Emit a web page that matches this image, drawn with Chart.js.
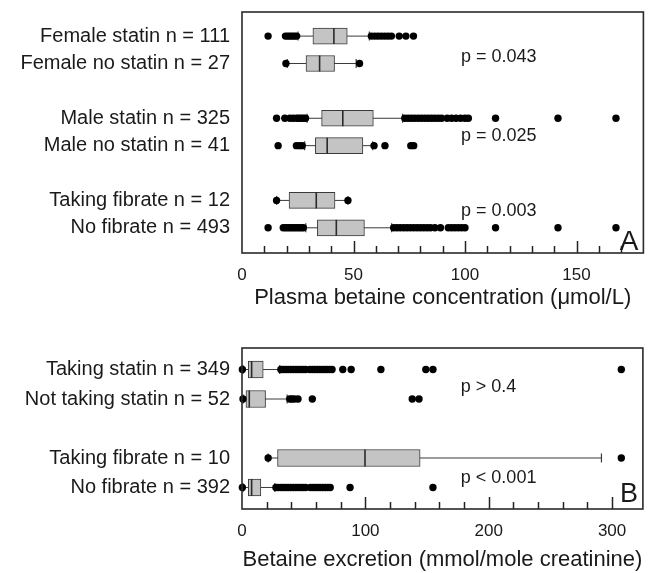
<!DOCTYPE html>
<html>
<head>
<meta charset="utf-8">
<script src="https://cdn.jsdelivr.net/npm/chart.js@4.4.1/dist/chart.umd.min.js"></script>
<style>
  html, body { margin: 0; padding: 0; background: #fff; }
  #wrapA { position: absolute; left: 0; top: 0; width: 653px; height: 320px; }
  #wrapB { position: absolute; left: 0; top: 320px; width: 653px; height: 253px; }
</style>
</head>
<body>
<div id="wrapA"><canvas id="chartA" width="653" height="320"></canvas></div>
<div id="wrapB"><canvas id="chartB" width="653" height="253"></canvas></div>
<script>
// ---------- Panel A data: plasma betaine concentration (µmol/L) ----------
const labelsA = ['Female statin n = 111', 'Female no statin n = 27', 'Male statin n = 325', 'Male no statin n = 41', 'Taking fibrate n = 12', 'No fibrate n = 493'];
const rowsA = [0, 1, 3, 4, 6, 7];
const lowA = [25.1, 20.3, 29.2, 28.1, 15.5, 28.6];
const q1A = [31.8, 28.7, 35.7, 32.9, 21.1, 33.8];
const medianA = [41.2, 34.8, 45.2, 38.2, 33.3, 42.3];
const q3A = [47.2, 41.5, 58.9, 54.2, 41.7, 54.9];
const highA = [57.1, 51.2, 72.0, 58.6, 47.5, 67.1];
const outliersA = [
  [11.7, 19.5, 20.5, 21.5, 22.5, 23.5, 24.5, 58, 59.5, 61, 62.5, 64, 65.5, 67, 70.5, 73.5, 76.9],
  [19.7, 52.7],
  [15.5, 19.2, 21.5, 23, 24.5, 25.5, 26.5, 27.5, 28.5, 73, 74.5, 76, 77.5, 79, 80.5, 82, 83.5, 85, 86.5, 88, 89.5, 92, 94, 96, 98, 100, 101.5, 113.7, 141.7, 167.7],
  [16.2, 24.4, 25.8, 27, 59.2, 64.1, 75.7, 77],
  [15.5, 47.5],
  [11.7, 18.5, 19.5, 20.5, 21.5, 22.5, 23.5, 24.5, 25.5, 26.5, 27.5, 68, 69.5, 71, 72.5, 74, 75.5, 77, 78.5, 80, 81.5, 83, 84.5, 86.5, 89, 92.5, 94, 95.5, 97, 98.5, 100, 113.7, 141.7, 167.7]
];
const pTextA = ['p = 0.043', 'p = 0.025', 'p = 0.003'];
const pRowA = [0.78, 3.65, 6.37];
const pValueXA = 98.2;
const axisTitleA = 'Plasma betaine concentration (\u03bcmol/L)';
const tickLabelsA = [0, 50, 100, 150];

// ---------- Panel B data: betaine excretion (mmol/mole creatinine) ----------
const labelsB = ['Taking statin n = 349', 'Not taking statin n = 52', 'Taking fibrate n = 10', 'No fibrate n = 392'];
const rowsB = [0, 1, 3, 4];
const lowB = [0.8, 1.0, 21.2, 0.8];
const q1B = [5.1, 3.2, 28.8, 5.1];
const medianB = [7.8, 5.9, 99.7, 7.8];
const q3B = [17.2, 19.1, 144.4, 15.3];
const highB = [30.6, 36.6, 291.4, 26.6];
const outliersB = [
  [0.3, 31.5, 33.5, 35.5, 37.5, 39.5, 41.5, 43.5, 45.5, 47.5, 49.5, 51.5, 55, 57, 59, 61, 63, 65, 67, 69, 71, 73, 81.7, 88.5, 112.6, 149, 154.8, 307.5],
  [0.8, 38.7, 40.5, 42.5, 45.4, 57, 138, 143.5],
  [21.2, 307.5],
  [0.3, 27.5, 29.5, 31.5, 33.5, 35.5, 37.5, 39.5, 41.5, 43.5, 45.5, 47.5, 49.5, 51.5, 55.5, 57.5, 59.5, 61.5, 63.5, 65.5, 67.5, 69.5, 71.5, 87.6, 154.8]
];
const pTextB = ['p > 0.4', 'p < 0.001'];
const pRowB = [0.58, 3.68];
const pValueXB = 177.4;
const axisTitleB = 'Betaine excretion (mmol/mole creatinine)';
const tickLabelsB = [0, 100, 200, 300];

// ---------- styling ----------
const FONT = "'Liberation Sans', Arial, Helvetica, sans-serif";
Chart.defaults.font.family = FONT;
Chart.defaults.color = '#1a1a1a';
const BOX_FILL = '#c4c4c4';
const LINE_COL = '#3a3a3a';

function buildDatasets(rows, low, q1, med, q3, high, outliers, boxH) {
  const ds = [];
  rows.forEach((r, i) => {
    ds.push({
      type: 'scatter', showLine: true, order: 5,
      data: [{x: low[i], y: r}, {x: high[i], y: r}],
      borderColor: LINE_COL, borderWidth: 1, pointRadius: 0, clip: false
    });
  });
  ds.push({
    type: 'scatter', order: 4,
    data: rows.flatMap((r, i) => [{x: low[i], y: r}, {x: high[i], y: r}]),
    pointStyle: 'line', rotation: 90, pointRadius: 4.5,
    borderColor: LINE_COL, borderWidth: 1.2, clip: false
  });
  ds.push({
    type: 'bar', indexAxis: 'y', order: 3,
    data: rows.map((r, i) => ({y: r, x: [q1[i], q3[i]]})),
    backgroundColor: BOX_FILL, borderColor: LINE_COL, borderWidth: 1,
    borderSkipped: false, barThickness: boxH
  });
  ds.push({
    type: 'scatter', order: 2,
    data: rows.map((r, i) => ({x: med[i], y: r})),
    pointStyle: 'line', rotation: 90, pointRadius: boxH / 2,
    borderColor: '#2a2a2a', borderWidth: 1.6, clip: false
  });
  ds.push({
    type: 'scatter', order: 1,
    data: rows.flatMap((r, i) => outliers[i].map(v => ({x: v, y: r}))),
    pointStyle: 'circle', pointRadius: 3.7,
    backgroundColor: '#000', borderColor: '#000', borderWidth: 0, clip: false
  });
  return ds;
}

function panelPlugin(majors, pTexts, pRows, pX, letter, letterSize, letterDrop) {
  return {
    id: 'panel' + letter,
    afterDraw(chart) {
      const {ctx, chartArea: a, scales: {x, y}} = chart;
      ctx.save();
      // inward tick marks
      ctx.strokeStyle = '#222';
      ctx.lineWidth = 1.5;
      x.ticks.forEach(t => {
        if (t.value <= x.min || t.value >= x.max) return;
        const px = Math.round(x.getPixelForValue(t.value)) + 0.5;
        const len = majors.includes(t.value) ? 12 : 7;
        ctx.beginPath();
        ctx.moveTo(px, a.bottom);
        ctx.lineTo(px, a.bottom - len);
        ctx.stroke();
      });
      // frame
      ctx.strokeStyle = '#2a2a2a';
      ctx.lineWidth = 1.6;
      ctx.strokeRect(a.left, a.top, a.right - a.left, a.bottom - a.top);
      // p values
      ctx.fillStyle = '#1a1a1a';
      ctx.font = '18px ' + FONT;
      ctx.textAlign = 'left';
      ctx.textBaseline = 'middle';
      pTexts.forEach((t, i) => ctx.fillText(t, x.getPixelForValue(pX), y.getPixelForValue(pRows[i])));
      // panel letter
      ctx.font = letterSize + 'px ' + FONT;
      ctx.textAlign = 'right';
      ctx.textBaseline = 'alphabetic';
      ctx.fillText(letter, a.right - 5, a.bottom - letterDrop);
      ctx.restore();
    }
  };
}

function makeChart(id, cfg) {
  return new Chart(document.getElementById(id), {
    type: 'scatter',
    data: {datasets: buildDatasets(cfg.rows, cfg.low, cfg.q1, cfg.med, cfg.q3, cfg.high, cfg.outliers, cfg.boxH)},
    options: {
      responsive: false,
      devicePixelRatio: 1,
      animation: false,
      events: [],
      layout: {padding: {top: cfg.padTop, right: 8, left: 0, bottom: 0}},
      plugins: {legend: {display: false}, tooltip: {enabled: false}},
      scales: {
        x: {
          type: 'linear', position: 'bottom', min: 0, max: cfg.xMax, offset: false,
          grid: {display: false, drawTicks: false, offset: false},
          border: {display: false},
          ticks: {
            stepSize: cfg.step, autoSkip: false, maxRotation: 0, padding: 12,
            font: {size: 17}, color: '#1a1a1a',
            callback: v => cfg.majors.includes(v) ? String(v) : ''
          },
          title: {display: true, text: cfg.title, font: {size: 22}, color: '#1a1a1a', padding: {top: 0, bottom: cfg.titlePad}},
          afterFit: s => { s.height = cfg.xHeight; s.paddingLeft = 0; s.paddingRight = 0; }
        },
        y: {
          type: 'linear', position: 'left', reverse: true, min: cfg.yMin, max: cfg.yMax, offset: false,
          grid: {display: false, drawTicks: false, offset: false},
          border: {display: false},
          afterBuildTicks: s => { s.ticks = cfg.rows.map(v => ({value: v})); },
          ticks: {
            autoSkip: false, padding: 12, font: {size: 20}, color: '#1a1a1a',
            callback: v => { const k = cfg.rows.indexOf(v); return k >= 0 ? cfg.labels[k] : ''; }
          },
          afterFit: s => { s.width = 242; s.paddingTop = 0; s.paddingBottom = 0; }
        }
      }
    },
    plugins: [panelPlugin(cfg.majors, cfg.pTexts, cfg.pRows, cfg.pX, cfg.letter, cfg.letterSize, cfg.letterDrop)]
  });
}

makeChart('chartA', {
  rows: rowsA, labels: labelsA, low: lowA, q1: q1A, med: medianA, q3: q3A, high: highA, outliers: outliersA,
  boxH: 16, padTop: 12, xMax: 180, step: 10, majors: tickLabelsA, title: axisTitleA, titlePad: 9, xHeight: 67,
  yMin: -0.88, yMax: 7.92, pTexts: pTextA, pRows: pRowA, pX: pValueXA, letter: 'A', letterSize: 28, letterDrop: 3
});
makeChart('chartB', {
  rows: rowsB, labels: labelsB, low: lowB, q1: q1B, med: medianB, q3: q3B, high: highB, outliers: outliersB,
  boxH: 17, padTop: 28, xMax: 325, step: 20, majors: tickLabelsB, title: axisTitleB, titlePad: 0, xHeight: 64,
  yMin: -0.73, yMax: 4.73, pTexts: pTextB, pRows: pRowB, pX: pValueXB, letter: 'B', letterSize: 27, letterDrop: 7
});
</script>
</body>
</html>
